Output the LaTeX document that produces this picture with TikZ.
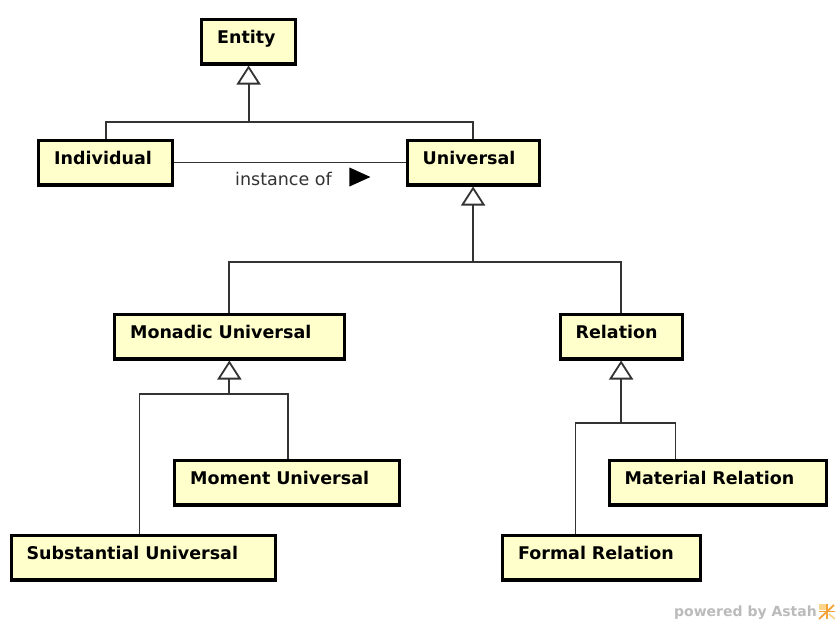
\documentclass[tikz,border=0pt]{standalone}
\usepackage{fontspec}
\setmainfont{DejaVu Sans}
\usetikzlibrary{arrows.meta,calc,backgrounds}
\definecolor{classfill}{HTML}{FFFFCC}
\definecolor{wire}{HTML}{333333}
\definecolor{brandgray}{HTML}{BBBBBB}
\definecolor{brandorange}{HTML}{F3A33A}
\definecolor{brandyellow}{HTML}{FAD58A}
\begin{document}
\begin{tikzpicture}[x=1pt,y=-1pt,
  cls/.style={draw=black, line width=3.2pt, fill=classfill, anchor=north west, align=left,
    inner xsep=15.5pt, inner ysep=0pt, text height=24pt, text depth=20.8pt,
    font=\fontsize{17.5}{21}\selectfont\bfseries},
  conn/.style={draw=wire, line width=1.8pt},
  gen/.style={conn, -{Triangle[open, length=19pt, width=24pt, fill=white]}},
  assoclabel/.style={anchor=base west, inner sep=0pt, text=wire,
    font=\fontsize{17.5}{21}\selectfont},
  brandtext/.style={anchor=base east, inner sep=0pt, text=brandgray,
    font=\fontsize{14}{16}\selectfont\bfseries},
]
\useasboundingbox (0,0) rectangle (835,619);

% classes
\node[cls, text width=63pt]    (entity)      at (200,17.5)   {Entity};
\node[cls, text width=103pt]   (individual)  at (37,138.5)   {Individual};
\node[cls, text width=101pt]   (universal)   at (405.5,138.5) {Universal};
\node[cls, text width=198.5pt] (monadic)     at (113,312.5)  {Monadic Universal};
\node[cls, text width=91pt]    (relation)    at (558.5,312.5) {Relation};
\node[cls, text width=194pt]   (moment)      at (173,458.5)  {Moment Universal};
\node[cls, text width=186.5pt] (material)    at (607.5,458.5) {Material Relation};
\node[cls, text width=233.5pt] (substantial) at (9.5,533.5)  {Substantial Universal};
\node[cls, text width=167pt]   (formal)      at (501,533.5)  {Formal Relation};

% association label
\node[assoclabel] (inst) at (235,185) {instance of};
\fill[black] ($(inst.base east)+(17.5,-17.5)$) -- ($(inst.base east)+(38.5,-8)$)
  -- ($(inst.base east)+(17.5,1.5)$) -- cycle;

\begin{scope}[on background layer]
  \fill[white] (0,0) rectangle (835,619);

  % Entity generalization
  \coordinate (busA) at (0,122);
  \draw[conn] (individual.north) |- (entity.south |- busA) -| (universal.north);
  \draw[gen] (entity.south |- busA) -- (entity.south);

  % Universal generalization
  \coordinate (busB) at (0,262);
  \draw[conn] (monadic.north) |- (universal.south |- busB) -| (relation.north);
  \draw[gen] (universal.south |- busB) -- (universal.south);

  % Monadic Universal generalization
  \coordinate (busC) at (0,394);
  \coordinate (subTop) at ($(substantial.north west)+(130,0)$);
  \coordinate (momTop) at ($(moment.north west)+(115,0)$);
  \draw[conn] (subTop) |- (monadic.south |- busC) -| (momTop);
  \draw[gen] (monadic.south |- busC) -- (monadic.south);

  % Relation generalization
  \coordinate (busD) at (0,423);
  \coordinate (forTop) at ($(formal.north west)+(74.5,0)$);
  \coordinate (matTop) at ($(material.north west)+(68,0)$);
  \draw[conn] (forTop) |- (relation.south |- busD) -| (matTop);
  \draw[gen] (relation.south |- busD) -- (relation.south);

  % instance-of association
  \draw[conn] (individual.east) -- (universal.west);
\end{scope}

% footer mark
\node[brandtext] (brand) at (817,616) {powered by Astah};
\begin{scope}[line width=1.8pt]
  \fill[brandyellow] (819,604) rectangle (826,610);
  \draw[brandorange] (819,619) -- (834,605);
  \draw[brandorange] (827,604) -- (827,619);
  \draw[brandorange] (819,611.5) -- (835,611.5);
  \draw[brandyellow] (829,614) -- (835,619);
\end{scope}
\end{tikzpicture}
\end{document}
